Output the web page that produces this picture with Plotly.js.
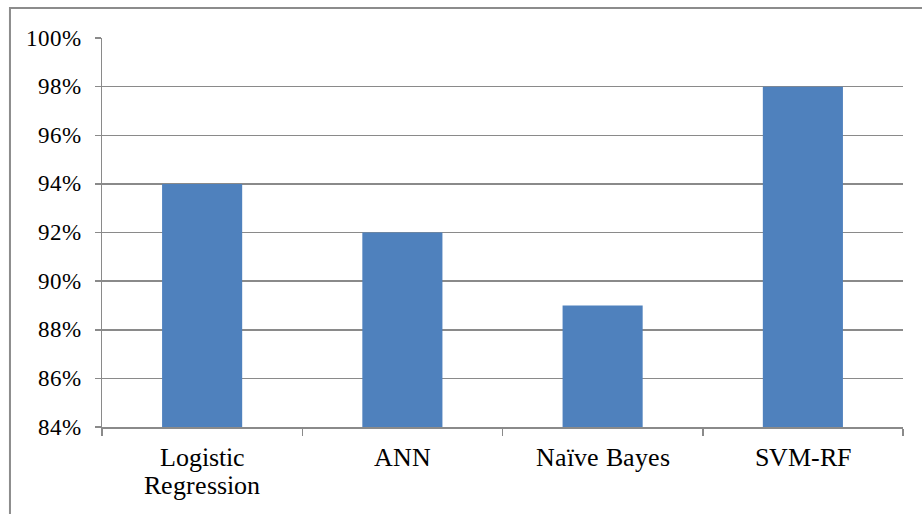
<!DOCTYPE html>
<html>
<head>
<meta charset="utf-8">
<script src="https://cdn.plot.ly/plotly-3.0.1.min.js"></script>
<style>
  @font-face {
    font-family: 'ChartSerif';
    src: local('Liberation Serif'), local('LiberationSerif'), local('Liberation Serif Regular'), local('LiberationSerif-Regular');
    font-weight: normal;
    font-style: normal;
  }
  html, body { margin: 0; padding: 0; background: #fff; font-family: 'ChartSerif', 'Liberation Serif', serif; }
  #chart { width: 922px; height: 514px; }
</style>
</head>
<body>
<div id="chart"></div>
<script>
// Classification accuracy by model
const models = ["Logistic<br>Regression", "ANN", "Naïve Bayes", "SVM-RF"];
const accuracy = [0.94, 0.92, 0.89, 0.98];
const yTicks = [0.84, 0.86, 0.88, 0.90, 0.92, 0.94, 0.96, 0.98, 1.00];
const yTickText = ["84%", "86%", "88%", "90%", "92%", "94%", "96%", "98%", "100%"];

const lineGray = "#8a8a8a";
const serif = "ChartSerif";

function draw() {
  const trace = {
    type: "bar",
    x: models,
    y: accuracy,
    base: 0,
    marker: { color: "#4F81BD", line: { width: 0 } },
    hoverinfo: "x+y"
  };

  // Category labels: one annotation per text line, set under the axis
  const xLabels = [];
  models.forEach(m => {
    m.split("<br>").forEach((line, i) => {
      xLabels.push({
        xref: "x", yref: "paper", x: m, y: 0,
        xanchor: "center", yanchor: "top",
        yshift: -14 - i * 28,
        showarrow: false, text: line,
        font: { family: serif, size: 26 }
      });
    });
  });

  // Percentage labels left of the value axis
  const yLabels = yTicks.map((v, i) => ({
    xref: "paper", yref: "y", x: 0, y: v,
    xanchor: "right", yanchor: "middle", xshift: -19,
    showarrow: false, text: yTickText[i],
    font: { family: serif, size: 23 }
  }));

  const layout = {
    width: 922,
    height: 514,
    margin: { l: 102, r: 19, t: 38, b: 87 },
    paper_bgcolor: "#fff",
    plot_bgcolor: "#fff",
    font: { family: serif, color: "#000" },
    showlegend: false,
    bargap: 0.6,
    xaxis: {
      type: "category",
      showgrid: false,
      showline: true,
      linecolor: lineGray,
      linewidth: 1.5,
      ticks: "outside",
      tickson: "boundaries",
      ticklen: 7,
      tickwidth: 1.5,
      tickcolor: lineGray,
      showticklabels: false,
      zeroline: false,
      fixedrange: true
    },
    yaxis: {
      range: [0.84, 1.0],
      tickvals: yTicks,
      showgrid: true,
      gridcolor: lineGray,
      gridwidth: 1.5,
      showline: true,
      linecolor: lineGray,
      linewidth: 1.5,
      ticks: "outside",
      ticklen: 6,
      tickwidth: 1.5,
      tickcolor: lineGray,
      showticklabels: false,
      zeroline: false,
      fixedrange: true
    },
    annotations: xLabels.concat(yLabels),
    shapes: [
      {
        // outer chart frame
        type: "rect",
        xref: "paper", yref: "paper",
        x0: -0.1149, x1: 1.2,
        y0: -0.4, y1: 1.0771,
        line: { color: "#8c8c8c", width: 2 },
        fillcolor: "rgba(0,0,0,0)",
        layer: "above"
      }
    ]
  };

  Plotly.newPlot("chart", [trace], layout, { displayModeBar: false, staticPlot: true });
}

// load the serif face before the labels are laid out
if (document.fonts && document.fonts.load) {
  Promise.all([
    document.fonts.load("26px ChartSerif"),
    document.fonts.load("23px ChartSerif")
  ]).then(draw, draw);
} else {
  draw();
}
</script>
</body>
</html>
